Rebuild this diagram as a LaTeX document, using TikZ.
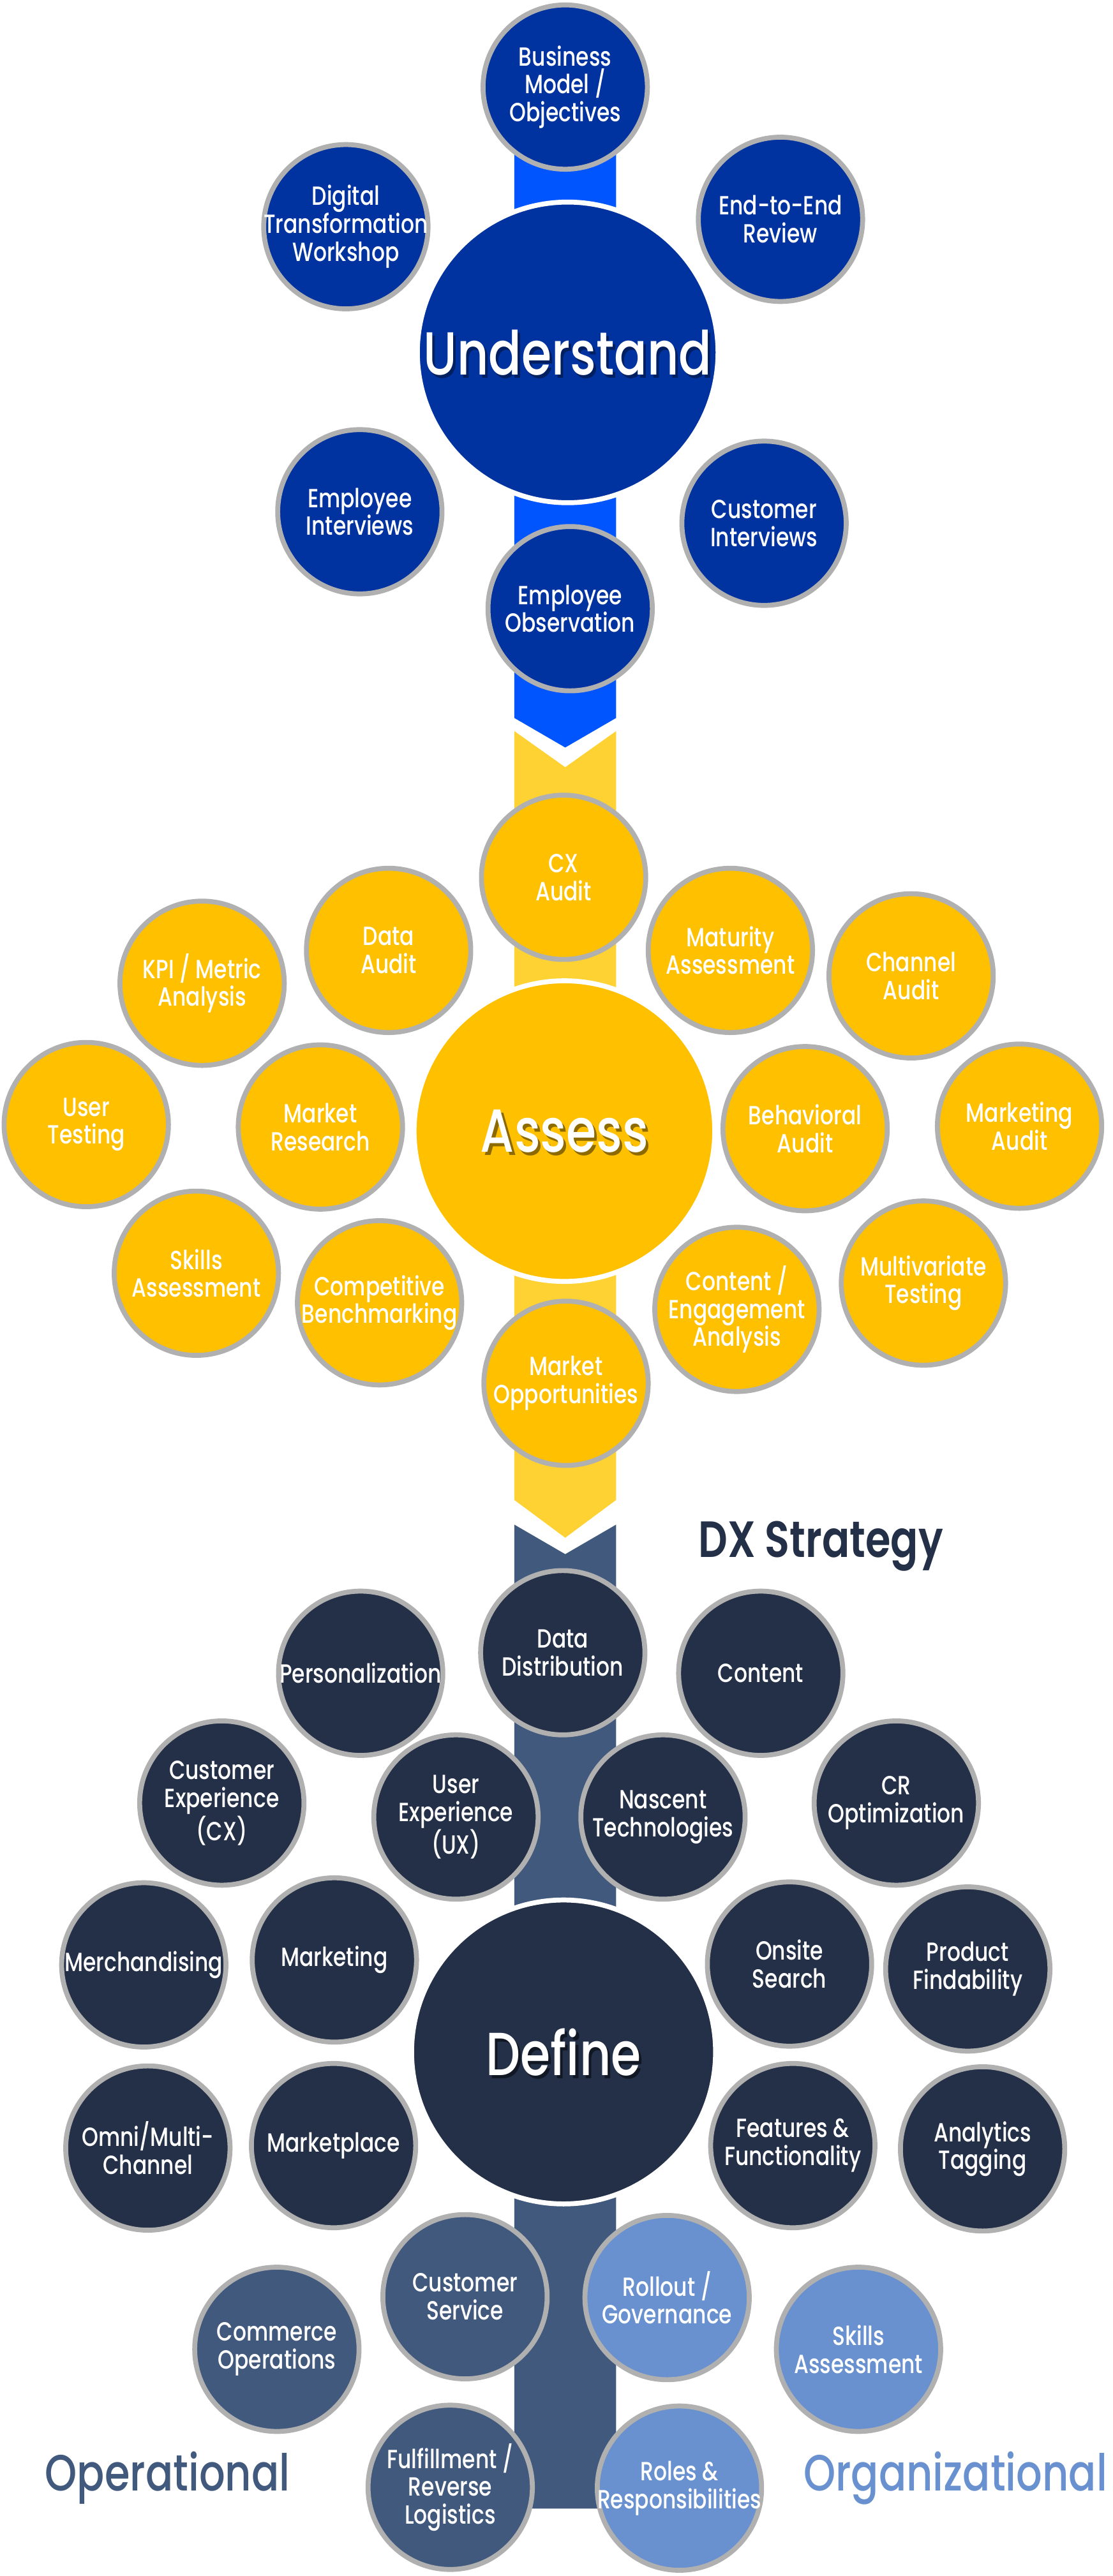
\documentclass[tikz,border=0pt]{standalone}
\usepackage{fontspec}
\IfFontExistsTF{Poppins Medium}
    {\newfontfamily\lblfont{Poppins Medium}[FakeStretch=0.8]}
    {\newfontfamily\lblfont{Poppins}[FakeStretch=0.8]}
\IfFontExistsTF{Poppins SemiBold}
    {\newfontfamily\hdfont{Poppins SemiBold}[FakeStretch=0.8]}
    {\newfontfamily\hdfont{Poppins}[FakeStretch=0.8]}
\definecolor{undblue}{HTML}{0033A0}
\definecolor{undbar}{HTML}{0055FF}
\definecolor{asgold}{HTML}{FFC000}
\definecolor{asbar}{HTML}{FFD234}
\definecolor{defnavy}{HTML}{243047}
\definecolor{defbar}{HTML}{42597E}
\definecolor{orgblue}{HTML}{6991CF}
\definecolor{ringgray}{HTML}{B0B0B0}
\newcommand\shtext[2]{\makebox[0pt][l]{\smash{\hspace{1.6pt}\raisebox{-2pt}{\textcolor{#1}{#2}}}}#2}

\begin{document}
\begin{tikzpicture}[x=1pt,y=-1pt,
    bub/.style={circle,draw=ringgray,line width=3pt,minimum size=100pt,inner sep=-14pt,
        text=white,align=center,font=\lblfont\fontsize{16}{17}\selectfont},
    hub/.style={circle,draw=white,line width=3pt,minimum size=183pt,inner sep=0pt,
        text=white,font=\lblfont\fontsize{37}{40}\selectfont},
    und/.style={bub,fill=undblue},
    ass/.style={bub,fill=asgold},
    dfn/.style={bub,fill=defnavy},
    opr/.style={bub,fill=defbar},
    org/.style={bub,fill=orgblue},
    title/.style={anchor=base,font=\lblfont\fontsize{31}{34}\selectfont}]
    \useasboundingbox (0,0) rectangle (677,1568);

    \fill[undbar] (313,93) -- (375,93) -- (375,437) -- (344,455) -- (313,437) -- cycle;
    \fill[asbar] (313,445) -- (344,467) -- (375,445) -- (375,913) -- (344,936) -- (313,913) -- cycle;
    \fill[defbar] (313,928) -- (344,946) -- (375,928) -- (375,1527) -- (313,1527) -- cycle;

    \node[und] (bmo) at (344,53) {Business\\Model /\\Objectives};
    \node[und] (dtw) at (210.5,138) {Digital\\Transformation\\Workshop};
    \node[und] (e2e) at (475,133.5) {End-to-End\\Review};
    \node[und] (empint) at (219,311.5) {Employee\\Interviews};
    \node[und] (custint) at (465,318.5) {Customer\\Interviews};
    \node[und] (empobs) at (347,370.5) {Employee\\Observation};
    \node[hub,fill=undblue] (understand) at (345.5,214.5) {\shtext{undblue!60!black}{Understand}};

    \node[ass] (cxaudit) at (343,534) {CX\\Audit};
    \node[ass] (dataaudit) at (236.5,578.5) {Data\\Audit};
    \node[ass] (kpi) at (123,598.5) {KPI / Metric\\Analysis};
    \node[ass] (maturity) at (444.5,578.5) {Maturity\\Assessment};
    \node[ass] (channel) at (554.5,594) {Channel\\Audit};
    \node[ass] (usertest) at (52.5,684.5) {User\\Testing};
    \node[ass] (mktres) at (195,686) {Market\\Research};
    \node[ass] (behav) at (490,687) {Behavioral\\Audit};
    \node[ass] (mktaudit) at (620.5,685.5) {Marketing\\Audit};
    \node[ass] (skills) at (119.5,775) {Skills\\Assessment};
    \node[ass] (compbench) at (231,793) {Competitive\\Benchmarking};
    \node[ass] (engage) at (448.5,797) {Content /\\Engagement\\Analysis};
    \node[ass] (multivar) at (562,781) {Multivariate\\Testing};
    \node[ass] (mktopp) at (344.5,842) {Market\\Opportunities};
    \node[hub,fill=asgold] (assess) at (343.5,688.5) {\shtext{asgold!55!black}{Assess}};

    \node[dfn] (datadist) at (342.5,1006) {Data\\Distribution};
    \node[dfn] (personal) at (219.5,1018.5) {Personalization};
    \node[dfn] (content) at (463,1018.5) {Content};
    \node[dfn] (custexp) at (135,1097.5) {Customer\\Experience\\(CX)};
    \node[dfn] (userexp) at (277.5,1106) {User\\Experience\\(UX)};
    \node[dfn] (nascent) at (403.5,1106) {Nascent\\Technologies};
    \node[dfn] (crop) at (545.5,1097.5) {CR\\Optimization};
    \node[dfn] (merch) at (87.5,1196) {Merchandising};
    \node[dfn] (marketing) at (203.5,1193) {Marketing};
    \node[dfn] (onsite) at (480.5,1195.5) {Onsite\\Search};
    \node[dfn] (findab) at (589,1198.5) {Product\\Findability};
    \node[dfn] (omni) at (90,1307.5) {Omni/Multi-\\Channel};
    \node[dfn] (mplace) at (203,1306) {Marketplace};
    \node[dfn] (features) at (482.5,1306) {Features \&\\Functionality};
    \node[dfn] (analytics) at (598,1308) {Analytics\\Tagging};
    \node[hub,fill=defnavy,minimum size=185pt] (define) at (343,1249) {\shtext{defnavy!50!black}{Define}};

    \node[opr] (custsvc) at (283,1398) {Customer\\Service};
    \node[opr] (commops) at (168.5,1430) {Commerce\\Operations};
    \node[opr] (fulfil) at (274,1514) {Fulfillment /\\Reverse\\Logistics};
    \node[org] (rollout) at (406,1398.5) {Rollout /\\Governance};
    \node[org] (orgskills) at (522.5,1430) {Skills\\Assessment};
    \node[org] (roles) at (413.5,1514.5) {Roles \&\\Responsibilities};

    \node[title,font=\hdfont\fontsize{31}{34}\selectfont,text=defnavy] (dxstrat) at (499.5,948) {DX Strategy};
    \node[title,text=defbar] (operational) at (102,1516) {Operational};
    \node[title,text=orgblue] (organizational) at (581.5,1516) {Organizational};
\end{tikzpicture}
\end{document}
